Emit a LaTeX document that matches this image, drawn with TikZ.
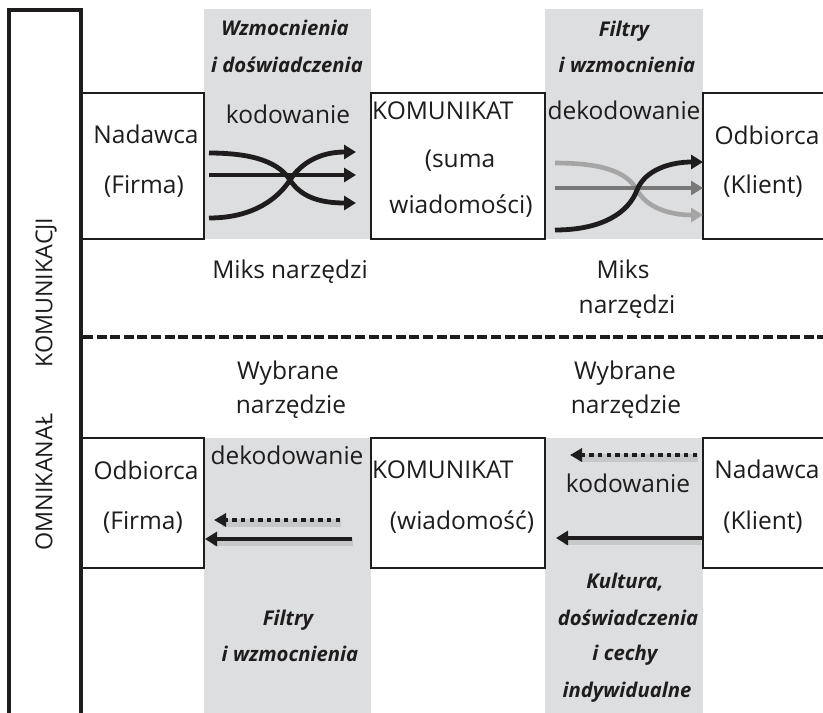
\documentclass[tikz,border=0pt]{standalone}
\usepackage{fontspec}
\setmainfont{Open Sans}
\usetikzlibrary{arrows.meta}
\definecolor{band}{RGB}{221,222,223}
\definecolor{ink}{RGB}{30,28,29}
\definecolor{lgray}{RGB}{165,165,165}
\definecolor{mgray}{RGB}{120,120,120}
\begin{document}
\begin{tikzpicture}[x=1pt,y=-1pt,
  bandbox/.style={fill=band, draw=none, inner sep=0pt, outer sep=0pt, anchor=north west},
  framebox/.style={draw=ink, line width=2pt, fill=white, inner sep=0pt, outer sep=0pt, anchor=north west},
  sideframe/.style={draw=ink, line width=3.6pt, inner sep=0pt, outer sep=0pt, anchor=north west},
  txt/.style={font=\fontsize{24.5}{29}\selectfont, text=ink, inner sep=0pt, anchor=base},
  sidetext/.style={font=\fontsize{23.3}{28}\selectfont, text=ink, inner sep=0pt, anchor=center, rotate=90},
  lab/.style={font=\fontsize{20.3}{24}\selectfont\bfseries\itshape, text=ink, inner sep=0pt, anchor=base},
  arr/.style={draw=ink, line width=4.8pt, -{Triangle[length=12pt,width=14pt]}},
  grayarr/.style={line width=4.6pt, -{Triangle[length=12pt,width=14pt]}},
  dotarr/.style={draw=ink, line width=4.4pt, dash pattern=on 4.4pt off 4.2pt, -{Triangle[length=12pt,width=13pt]}},
  shadowline/.style={draw=black, opacity=0.10, line width=8pt},
  divider/.style={draw=ink, line width=3.2pt, dash pattern=on 10pt off 3.6pt}
]
\useasboundingbox (0,0) rectangle (823,713);
\clip (0,0) rectangle (823,713);

% bands
\node[bandbox, minimum width=167pt, minimum height=230pt] (b1) at (204,9) {};
\node[bandbox, minimum width=158pt, minimum height=230pt] (b2) at (545,9) {};
\node[bandbox, minimum width=167pt, minimum height=290pt] (b3) at (204,438) {};
\node[bandbox, minimum width=158pt, minimum height=290pt] (b4) at (545,438) {};

% side frame
\node[sideframe, minimum width=72pt, minimum height=760pt] (side) at (9,10) {};
\node[sidetext] (sidetxt) at (46,384) {OMNIKANAŁ\hspace{46pt}KOMUNIKACJI};

% top row boxes
\node[framebox, minimum width=122pt, minimum height=146pt] (t1) at (82,93) {};
\node[framebox, minimum width=174pt, minimum height=146pt] (t2) at (371,93) {};
\node[framebox, minimum width=140pt, minimum height=146pt] (t3) at (703,93) {};

% bottom row boxes
\node[framebox, minimum width=122pt, minimum height=130pt] (u1) at (82,438) {};
\node[framebox, minimum width=174pt, minimum height=130pt] (u2) at (371,438) {};
\node[framebox, minimum width=140pt, minimum height=130pt] (u3) at (703,438) {};

% divider
\coordinate (dl) at (83,337);
\coordinate (dr) at (823,337);
\draw[divider] (dl) -- (dr);

% ---- top texts
\node[lab] (l1a) at (285,35) {Wzmocnienia};
\node[lab] (l1b) at (287,72) {i doświadczenia};
\node[txt] (k1) at (288,123) {kodowanie};
\node[txt] (n1a) at (146,143) {Nadawca};
\node[txt] (n1b) at (144,193) {(Firma)};
\node[txt, anchor=base west] (m1a) at (372,119) {KOMUNIKAT};
\node[txt] (m1b) at (460,167) {(suma};
\node[txt] (m1c) at (461,213) {wiadomości)};
\node[lab] (l2a) at (624,36) {Filtry};
\node[lab] (l2b) at (627,72) {i wzmocnienia};
\node[txt] (d1) at (624,119) {dekodowanie};
\node[txt] (o1a) at (767,144) {Odbiorca};
\node[txt] (o1b) at (763,193) {(Klient)};
\node[txt] (mx1) at (290,278) {Miks\hspace{6pt}narzędzi};
\node[txt] (mx2a) at (623,278) {Miks};
\node[txt] (mx2b) at (627,313) {narzędzi};

% top-left crossing arrows
\coordinate (a1s) at (209,153);
\coordinate (a2s) at (209,175);
\coordinate (a3s) at (209,218);
\coordinate (cx1) at (290,180);
\coordinate (a1e) at (356,203);
\coordinate (a2e) at (356,175);
\coordinate (a3e) at (356,152);
\draw[arr] (a2s) -- (a2e);
\draw[arr] (a1s) .. controls (255,153) and (279,163) .. (cx1) .. controls (301,197) and (320,203) .. (a1e);
\draw[arr] (a3s) .. controls (255,218) and (279,197) .. (cx1) .. controls (301,163) and (320,152) .. (a3e);

% top-right crossing arrows
\coordinate (g1s) at (555,163);
\coordinate (g2s) at (555,188);
\coordinate (g3s) at (555,230);
\coordinate (cx2) at (637,190);
\coordinate (g1e) at (703,215);
\coordinate (g2e) at (703,188);
\coordinate (g3e) at (703,162);
\draw[grayarr, draw=lgray] (g1s) .. controls (603,163) and (627,172) .. (cx2) .. controls (647,208) and (670,215) .. (g1e);
\draw[grayarr, draw=mgray] (g2s) -- (g2e);
\draw[arr] (g3s) .. controls (603,230) and (629,212) .. (cx2) .. controls (645,170) and (670,162) .. (g3e);

% ---- bottom texts
\node[txt] (w1a) at (288,379) {Wybrane};
\node[txt] (w1b) at (291,413) {narzędzie};
\node[txt] (w2a) at (625,379) {Wybrane};
\node[txt] (w2b) at (626,413) {narzędzie};
\node[txt] (d2) at (287,464) {dekodowanie};
\node[txt] (o2a) at (146,479) {Odbiorca};
\node[txt] (o2b) at (143,529) {(Firma)};
\node[txt, anchor=base west] (m2a) at (372,478) {KOMUNIKAT};
\node[txt] (m2b) at (462,529) {(wiadomość)};
\node[txt] (k2) at (628,492) {kodowanie};
\node[txt] (n2a) at (767,478) {Nadawca};
\node[txt] (n2b) at (763,529) {(Klient)};
\node[lab] (l3a) at (288,625) {Filtry};
\node[lab] (l3b) at (290,661) {i wzmocnienia};
\node[lab] (l4a) at (625,588) {Kultura,};
\node[lab] (l4b) at (628,625) {doświadczenia};
\node[lab] (l4c) at (625,660) {i cechy};
\node[lab] (l4d) at (627,697) {indywidualne};

% bottom arrows
\coordinate (p1s) at (340,520);
\coordinate (p1e) at (214,520);
\coordinate (p2s) at (352,539);
\coordinate (p2e) at (205,539);
\coordinate (p3s) at (697,455);
\coordinate (p3e) at (570,455);
\coordinate (p4s) at (703,538);
\coordinate (p4e) at (556,538);
\draw[shadowline] ([yshift=-2.5pt,xshift=1pt]p1s) -- ([yshift=-2.5pt,xshift=8pt]p1e);
\draw[shadowline] ([yshift=-2.5pt,xshift=1pt]p2s) -- ([yshift=-2.5pt,xshift=8pt]p2e);
\draw[shadowline] ([yshift=-2.5pt,xshift=1pt]p3s) -- ([yshift=-2.5pt,xshift=8pt]p3e);
\draw[shadowline] ([yshift=-2.5pt,xshift=-2pt]p4s) -- ([yshift=-2.5pt,xshift=8pt]p4e);
\draw[dotarr] (p1s) -- (p1e);
\draw[arr] (p2s) -- (p2e);
\draw[dotarr] (p3s) -- (p3e);
\draw[arr] (p4s) -- (p4e);
\end{tikzpicture}
\end{document}
